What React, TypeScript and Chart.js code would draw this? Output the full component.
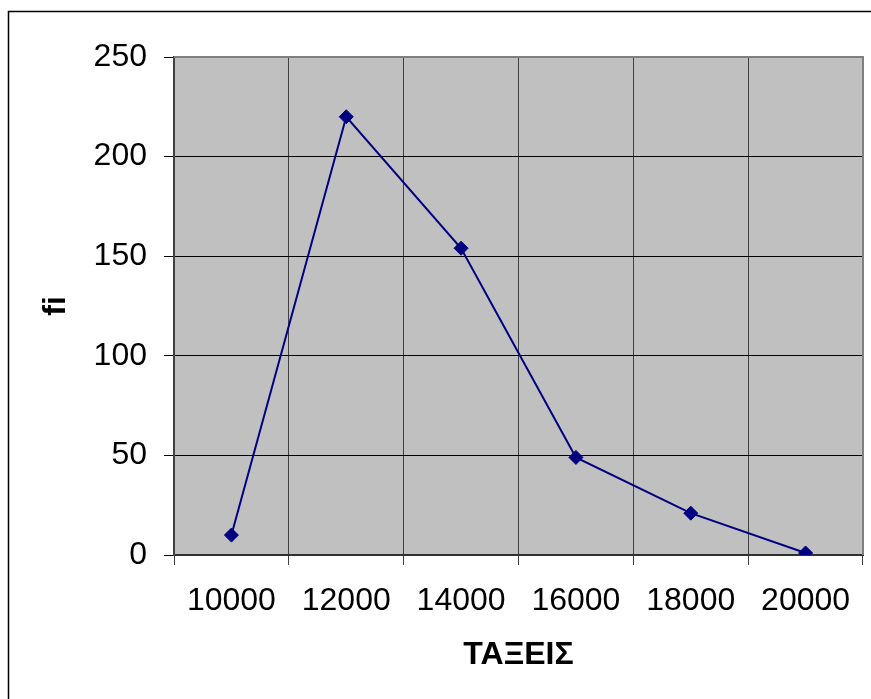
import React, { useEffect, useRef } from "react";
import { Chart, registerables } from "chart.js";

Chart.register(...registerables);

const categories = ["10000", "12000", "14000", "16000", "18000", "20000"];
const fiValues = [10, 220, 154, 49, 21, 1];
const xTitle = "ΤΑΞΕΙΣ";
const yTitle = "fi";

const FONT = "'Liberation Sans', Arial, sans-serif";

const framePlugin = {
  id: "frame",
  beforeDraw(chart: any) {
    const { ctx, chartArea } = chart;
    ctx.save();
    ctx.fillStyle = "#ffffff";
    ctx.fillRect(0, 0, chart.width, chart.height);
    ctx.fillStyle = "#C0C0C0";
    ctx.fillRect(chartArea.left, chartArea.top, chartArea.right - chartArea.left, chartArea.bottom - chartArea.top);
    ctx.restore();
  },
  afterDraw(chart: any) {
    const { ctx, chartArea } = chart;
    ctx.save();
    ctx.strokeStyle = "#808080";
    ctx.lineWidth = 2;
    ctx.beginPath();
    ctx.moveTo(chartArea.left, chartArea.top);
    ctx.lineTo(chartArea.right, chartArea.top);
    ctx.lineTo(chartArea.right, chartArea.bottom);
    ctx.stroke();
    ctx.strokeStyle = "#000000";
    ctx.lineWidth = 1.5;
    ctx.beginPath();
    ctx.moveTo(8.5, chart.height + 2);
    ctx.lineTo(8.5, 11.5);
    ctx.lineTo(chart.width + 2, 11.5);
    ctx.stroke();
    ctx.restore();
  },
};

export default function App() {
  const ref = useRef<HTMLCanvasElement | null>(null);
  useEffect(() => {
    if (!ref.current) return;
    const chart = new Chart(ref.current, {
      type: "line",
      data: {
        labels: categories,
        datasets: [
          {
            data: fiValues,
            borderColor: "#000080",
            backgroundColor: "#000080",
            borderWidth: 2,
            pointStyle: "rectRot",
            pointRadius: 7,
            pointBorderWidth: 1,
            pointBackgroundColor: "#000080",
            pointBorderColor: "#000080",
            tension: 0,
            fill: false,
          },
        ],
      },
      options: {
        responsive: false,
        animation: false,
        devicePixelRatio: 1,
        layout: { padding: { top: 57, right: 5, left: 0, bottom: 0 } },
        plugins: {
          legend: { display: false },
          tooltip: { enabled: false },
        },
        scales: {
          x: {
            type: "category",
            offset: true,
            grid: {
              offset: true,
              color: "#404040",
              tickColor: "#404040",
              tickLength: 10,
              lineWidth: 1,
            },
            border: { color: "#303030", width: 2 },
            ticks: {
              color: "#000000",
              font: { family: FONT, size: 32 },
              padding: 17,
              maxRotation: 0,
              autoSkip: false,
            },
            title: {
              display: true,
              text: xTitle,
              color: "#000000",
              font: { family: FONT, size: 32, weight: "bold" },
              padding: { top: 0, bottom: 25 },
            },
            afterFit(scale: any) {
              scale.height = 144;
            },
          },
          y: {
            min: 0,
            max: 250,
            ticks: {
              stepSize: 50,
              color: "#000000",
              font: { family: FONT, size: 32 },
              padding: 17,
            },
            grid: {
              color: "#000000",
              tickColor: "#000000",
              tickLength: 10,
              lineWidth: 1,
            },
            border: { color: "#404040", width: 2 },
            title: {
              display: true,
              text: yTitle,
              color: "#000000",
              font: { family: FONT, size: 32, weight: "bold" },
              padding: { top: 37, bottom: 0 },
            },
            afterFit(scale: any) {
              scale.width = 174;
            },
          },
        },
      },
      plugins: [framePlugin],
    } as any);
    return () => chart.destroy();
  }, []);
  return (
    <canvas
      ref={ref}
      width={871}
      height={699}
      style={{ position: "absolute", left: 0, top: 0, width: 871, height: 699 }}
    />
  );
}
